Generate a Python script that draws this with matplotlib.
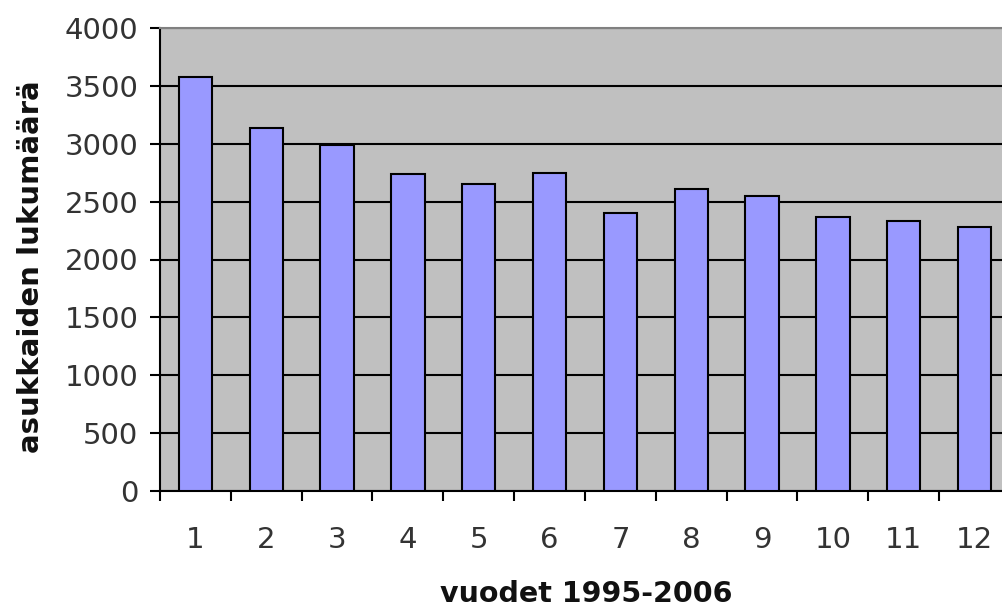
import numpy as np
import matplotlib
matplotlib.use("Agg")
import matplotlib.pyplot as plt

# vuodet 1995-2006 numeroituna 1..12
years = [1, 2, 3, 4, 5, 6, 7, 8, 9, 10, 11, 12]
counts = [3580, 3135, 2990, 2735, 2650, 2750, 2405, 2610, 2545, 2370, 2335, 2285]
y_ticks = [0, 500, 1000, 1500, 2000, 2500, 3000, 3500, 4000]

plt.rcParams['font.family'] = ['DejaVu Sans']

fig = plt.figure(figsize=(10.03, 6.10), dpi=100)
ax = fig.add_axes([160 / 1003, 119 / 610, 850 / 1003, 463 / 610])

ax.set_facecolor('#C0C0C0')
ax.bar(years, counts, width=0.47, color='#9999FF', edgecolor='black',
       linewidth=1.5, zorder=3)

ax.set_ylim(0, 4000)
ax.set_xlim(0.5, 12.5)
ax.set_yticks(y_ticks)
ax.set_yticklabels([str(v) for v in y_ticks])
ax.yaxis.grid(True, color='black', linewidth=1.5, zorder=1)
ax.set_axisbelow(True)

# tikit kategorioiden väliin, numerot keskelle
ax.set_xticks(np.arange(0.5, 13, 1))
ax.set_xticklabels([''] * 13)
ax.set_xticks(years, [str(v) for v in years], minor=True)
ax.tick_params(axis='x', which='major', direction='out', length=7.5, width=1.5)
ax.tick_params(axis='x', which='minor', length=0, pad=25, labelsize=21,
               labelcolor='#333333')
ax.tick_params(axis='y', direction='out', length=7.5, width=1.5, pad=8,
               labelsize=21, labelcolor='#333333')

ax.spines['left'].set_linewidth(1.5)
ax.spines['bottom'].set_linewidth(1.5)
ax.spines['top'].set_color('#808080')
ax.spines['top'].set_linewidth(1.5)
ax.spines['right'].set_visible(False)

ax.set_xlabel('vuodet 1995-2006', fontsize=20.5, fontweight='bold', color='#111111')
ax.set_ylabel('asukkaiden lukumäärä', fontsize=21, fontweight='bold', color='#111111')
ax.xaxis.set_label_coords(0.502, -0.222)
ax.xaxis.label.set_va('center')
ax.yaxis.set_label_coords(-0.152, 0.485)
ax.yaxis.label.set_va('center')

fig.savefig('out.png', dpi=100)
